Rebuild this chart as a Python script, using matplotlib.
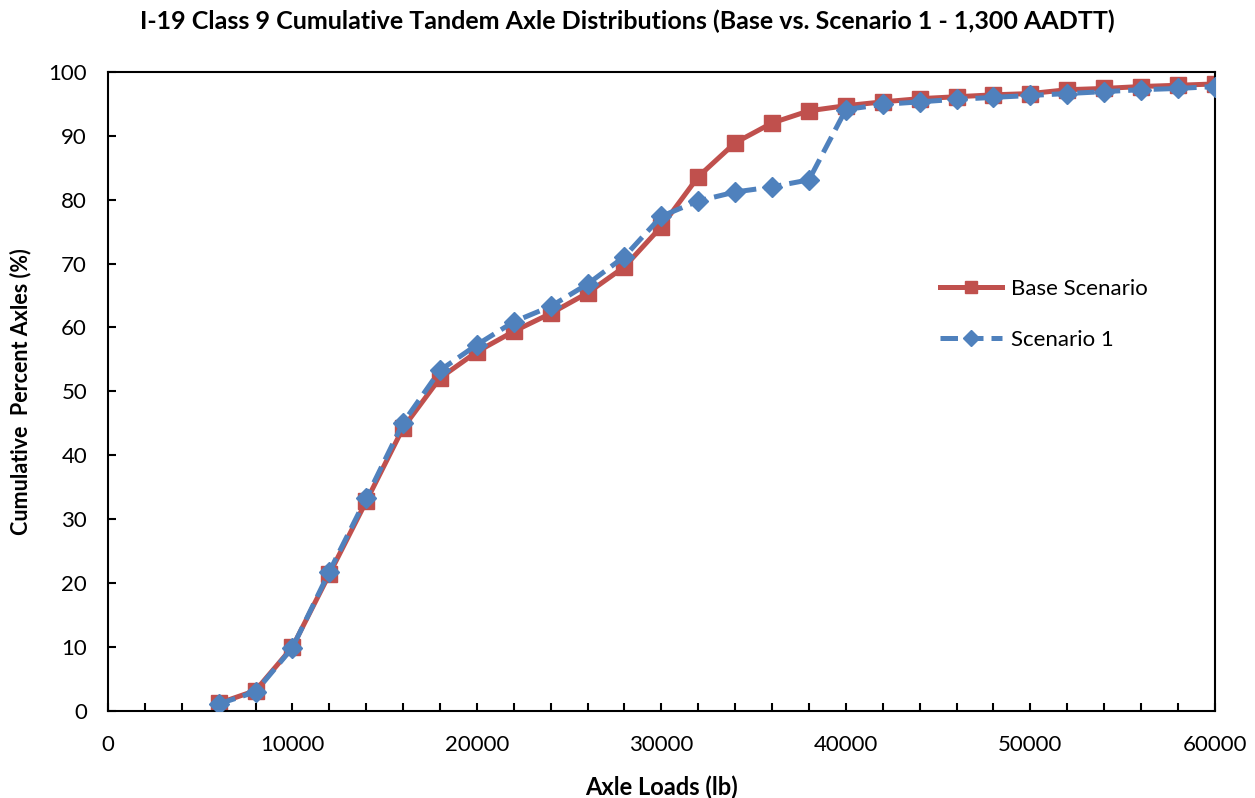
import matplotlib.pyplot as plt
from matplotlib.ticker import MultipleLocator

# axle load bins (lb)
axle_loads = list(range(6000, 60001, 2000))

base_scenario = [1.2, 3.2, 10.0, 21.4, 32.8, 44.3, 52.1, 56.2, 59.4, 62.2,
                 65.4, 69.5, 75.8, 83.6, 88.9, 92.0, 93.9, 94.7, 95.3, 95.8,
                 96.1, 96.4, 96.6, 97.2, 97.4, 97.7, 97.9, 98.1]
scenario_1 = [1.1, 3.0, 9.9, 21.8, 33.3, 45.1, 53.3, 57.3, 60.9, 63.3,
              66.8, 71.1, 77.4, 79.8, 81.2, 82.0, 83.1, 94.1, 94.9, 95.3,
              95.7, 96.0, 96.3, 96.6, 96.9, 97.2, 97.4, 97.7]

RED = "#C0504D"
BLUE = "#4F81BD"

plt.rcParams["font.family"] = ["Lato", "DejaVu Sans"]

fig = plt.figure(figsize=(12.55, 7.98), dpi=100)
ax = fig.add_axes([0.086, 0.109, 0.882, 0.801])

ax.plot(axle_loads, base_scenario, color=RED, lw=3.6, marker="s", ms=11,
        mec=RED, mfc=RED, label="Base Scenario", zorder=2)
ax.plot(axle_loads, scenario_1, color=BLUE, lw=3.6, ls=(0, (3.5, 1.6)),
        marker="D", ms=10, mec=BLUE, mfc=BLUE, label="Scenario 1", zorder=3)

ax.set_xlim(0, 60000)
ax.set_ylim(0, 100)
ax.xaxis.set_major_locator(MultipleLocator(10000))
ax.xaxis.set_minor_locator(MultipleLocator(2000))
ax.yaxis.set_major_locator(MultipleLocator(10))
ax.tick_params(axis="both", which="both", direction="in", width=1.5,
               labelsize=16, length=6)
ax.tick_params(axis="x", pad=17)
ax.tick_params(axis="y", pad=15)
ax.tick_params(axis="y", which="minor", length=0)
for sp in ax.spines.values():
    sp.set_linewidth(1.5)

ax.set_xlabel("Axle Loads (lb)", fontsize=17, fontweight="bold", labelpad=15)
ax.set_ylabel("Cumulative  Percent Axles (%)", fontsize=15.5,
              fontweight="bold", labelpad=12)
fig.suptitle("I-19 Class 9 Cumulative Tandem Axle Distributions "
             "(Base vs. Scenario 1 - 1,300 AADTT)",
             fontsize=18, fontweight="bold", y=0.988)

ax.legend(loc="center left", bbox_to_anchor=(0.7516, 0.62), frameon=False,
          fontsize=16, handlelength=2.8, handletextpad=0.4, labelspacing=1.4,
          borderpad=0, borderaxespad=0, markerscale=0.85)

fig.savefig("out.png", dpi=100)
